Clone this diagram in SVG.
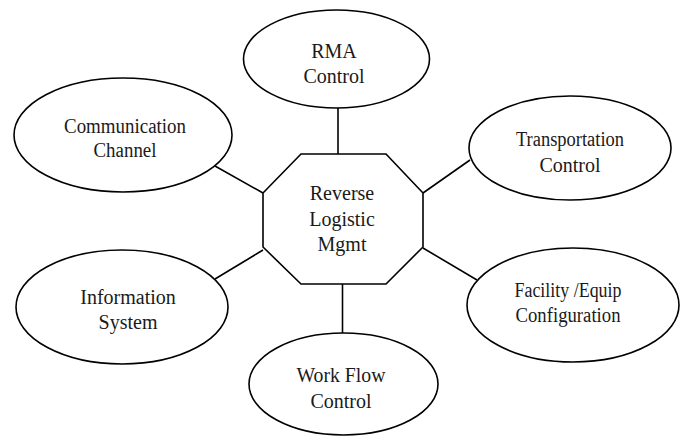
<svg xmlns="http://www.w3.org/2000/svg" width="686" height="436" viewBox="0 0 686 436">
<style>
.n{fill:#fff;stroke:#000;stroke-width:1.6}
.c{stroke:#000;stroke-width:1.6;fill:none}
text{font-family:"Liberation Serif","Times New Roman",serif;font-size:20px;fill:#1a1a1a;text-anchor:middle}
</style>
<rect width="686" height="436" fill="#fff"/>
<g id="connectors">
<line class="c" x1="338" y1="108" x2="338" y2="154"/>
<line class="c" x1="215" y1="166" x2="263" y2="193"/>
<line class="c" x1="470" y1="160" x2="423" y2="193"/>
<line class="c" x1="215" y1="279" x2="263" y2="250"/>
<line class="c" x1="423" y1="248" x2="477" y2="280"/>
<line class="c" x1="342.5" y1="284" x2="342.5" y2="333"/>
</g>
<g id="rma">
<ellipse class="n" cx="336.5" cy="59" rx="93" ry="49"/>
<text x="334" y="58">RMA</text>
<text x="334" y="83">Control</text>
</g>
<g id="comm">
<ellipse class="n" cx="123" cy="135" rx="109" ry="57"/>
<text x="125" y="133" textLength="122" lengthAdjust="spacingAndGlyphs">Communication</text>
<text x="125" y="157" textLength="63" lengthAdjust="spacingAndGlyphs">Channel</text>
</g>
<g id="transport">
<ellipse class="n" cx="570" cy="148" rx="101" ry="52"/>
<text x="570" y="146" textLength="108" lengthAdjust="spacingAndGlyphs">Transportation</text>
<text x="570" y="172">Control</text>
</g>
<g id="center">
<polygon class="n" points="301,154 386,154 423,193 423,247 386,284 301,284 263,247 263,193"/>
<text x="342" y="200">Reverse</text>
<text x="342" y="226">Logistic</text>
<text x="342" y="251">Mgmt</text>
</g>
<g id="info">
<ellipse class="n" cx="122" cy="307" rx="106" ry="57"/>
<text x="128" y="304">Information</text>
<text x="128" y="329">System</text>
</g>
<g id="facility">
<ellipse class="n" cx="573" cy="305" rx="106" ry="57"/>
<text x="568" y="297" textLength="107" lengthAdjust="spacingAndGlyphs">Facility /Equip</text>
<text x="568" y="322" textLength="105" lengthAdjust="spacingAndGlyphs">Configuration</text>
</g>
<g id="workflow">
<ellipse class="n" cx="343.5" cy="384" rx="94.5" ry="51"/>
<text x="341" y="382" textLength="89" lengthAdjust="spacingAndGlyphs">Work Flow</text>
<text x="341" y="408">Control</text>
</g>
</svg>
